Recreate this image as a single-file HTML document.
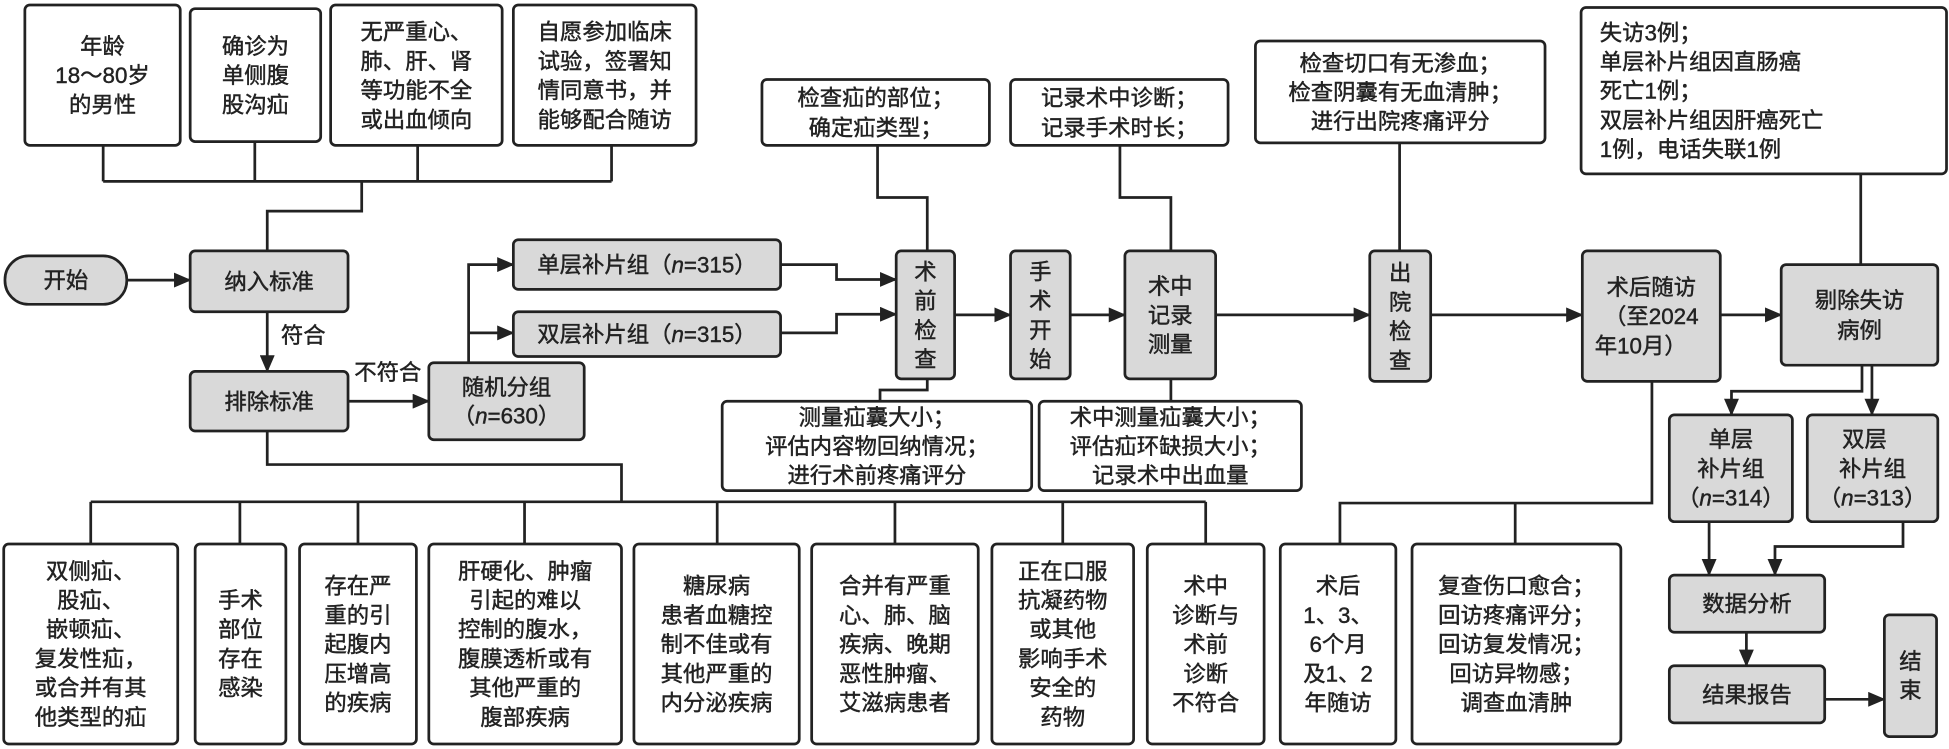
<!DOCTYPE html>
<html><head><meta charset="utf-8"><style>
html,body{margin:0;padding:0;background:#fff;}
svg{display:block}
text{font-family:"Liberation Sans","Noto Sans CJK SC",sans-serif;font-size:18px;fill:#222;stroke:#222;stroke-width:0.35;}
.b{fill:#fff;stroke:#222;stroke-width:2.2;}
.g{fill:#d9d9d9;stroke:#222;stroke-width:2.2;}
.l{fill:none;stroke:#222;stroke-width:2.2;}
</style></head><body>
<svg width="1949" height="749" viewBox="0 0 1568 603" preserveAspectRatio="none" xmlns="http://www.w3.org/2000/svg">
<defs><marker id="a" markerUnits="userSpaceOnUse" markerWidth="14" markerHeight="12" refX="13" refY="6" orient="auto"><path d="M0,0 L14,6 L0,12 z" fill="#222"/></marker></defs>

<!-- top criteria -->
<rect class="b" x="20" y="4" width="125" height="113" rx="4"/>
<text text-anchor="middle"><tspan x="82.5" y="43.5">年龄</tspan><tspan x="82.5" y="67">18～80岁</tspan><tspan x="82.5" y="90.5">的男性</tspan></text>
<rect class="b" x="153" y="7" width="105" height="107" rx="4"/>
<text text-anchor="middle"><tspan x="205.5" y="43.5">确诊为</tspan><tspan x="205.5" y="67">单侧腹</tspan><tspan x="205.5" y="90.5">股沟疝</tspan></text>
<rect class="b" x="266" y="4" width="138" height="113" rx="4"/>
<text text-anchor="middle"><tspan x="335" y="32">无严重心、</tspan><tspan x="335" y="55.5">肺、肝、肾</tspan><tspan x="335" y="79">等功能不全</tspan><tspan x="335" y="102.5">或出血倾向</tspan></text>
<rect class="b" x="413" y="4" width="147" height="113" rx="4"/>
<text text-anchor="middle"><tspan x="486.5" y="32">自愿参加临床</tspan><tspan x="486.5" y="55.5">试验，签署知</tspan><tspan x="486.5" y="79">情同意书，并</tspan><tspan x="486.5" y="102.5">能够配合随访</tspan></text>
<path class="l" d="M83,117 V146 M205,114 V146 M336,117 V146 M492,117 V146 M83,146 H492 M291,146 V170 H215 V202"/>

<!-- main left -->
<rect class="g" x="4" y="206" width="98" height="39" rx="19"/>
<text x="53" y="232" text-anchor="middle">开始</text>
<path class="l" d="M102,225.5 H153" marker-end="url(#a)"/>
<rect class="g" x="153" y="202" width="127" height="49" rx="4"/>
<text x="216.5" y="233" text-anchor="middle">纳入标准</text>
<path class="l" d="M215,251 V299" marker-end="url(#a)"/>
<text x="226" y="276">符合</text>
<rect class="g" x="153" y="299" width="127" height="48" rx="4"/>
<text x="216.5" y="329.5" text-anchor="middle">排除标准</text>
<text x="285" y="306">不符合</text>
<path class="l" d="M280,323 H345" marker-end="url(#a)"/>
<rect class="g" x="345" y="292" width="125" height="62" rx="4"/>
<text text-anchor="middle"><tspan x="407.5" y="318">随机分组</tspan><tspan x="407.5" y="341">（<tspan font-style="italic">n</tspan>=630）</tspan></text>
<path class="l" d="M377,292 V213 H413" marker-end="url(#a)"/>
<path class="l" d="M377,268 H413" marker-end="url(#a)"/>
<rect class="g" x="413" y="193" width="215" height="40" rx="4"/>
<text x="520.5" y="219.5" text-anchor="middle">单层补片组（<tspan font-style="italic">n</tspan>=315）</text>
<rect class="g" x="413" y="251" width="215" height="36" rx="4"/>
<text x="520.5" y="275.5" text-anchor="middle">双层补片组（<tspan font-style="italic">n</tspan>=315）</text>
<path class="l" d="M628,213 H673 V225 H721" marker-end="url(#a)"/>
<path class="l" d="M628,268 H673 V253 H721" marker-end="url(#a)"/>

<!-- middle flow -->
<rect class="b" x="613" y="64" width="183" height="53" rx="4"/>
<text text-anchor="middle"><tspan x="704.5" y="85">检查疝的部位；</tspan><tspan x="704.5" y="109">确定疝类型；</tspan></text>
<path class="l" d="M706,117 V159 H746 V202"/>
<rect class="b" x="813" y="64" width="175" height="53" rx="4"/>
<text text-anchor="middle"><tspan x="900.5" y="85">记录术中诊断；</tspan><tspan x="900.5" y="109">记录手术时长；</tspan></text>
<path class="l" d="M901,117 V159 H942 V202"/>

<rect class="g" x="721" y="202" width="47" height="103" rx="4"/>
<text text-anchor="middle"><tspan x="744.5" y="225">术</tspan><tspan x="744.5" y="248.5">前</tspan><tspan x="744.5" y="272">检</tspan><tspan x="744.5" y="295.5">查</tspan></text>
<path class="l" d="M768,253.5 H813" marker-end="url(#a)"/>
<rect class="g" x="813" y="202" width="48" height="103" rx="4"/>
<text text-anchor="middle"><tspan x="837" y="225">手</tspan><tspan x="837" y="248.5">术</tspan><tspan x="837" y="272">开</tspan><tspan x="837" y="295.5">始</tspan></text>
<path class="l" d="M861,253.5 H905" marker-end="url(#a)"/>
<rect class="g" x="905" y="202" width="73" height="103" rx="4"/>
<text text-anchor="middle"><tspan x="941.5" y="236.5">术中</tspan><tspan x="941.5" y="260">记录</tspan><tspan x="941.5" y="283.5">测量</tspan></text>
<path class="l" d="M978,253.5 H1102" marker-end="url(#a)"/>

<path class="l" d="M746,305 V314 H708 V323"/>
<rect class="b" x="581" y="323" width="249" height="72" rx="4"/>
<text text-anchor="middle"><tspan x="705.5" y="342">测量疝囊大小；</tspan><tspan x="705.5" y="365.5">评估内容物回纳情况；</tspan><tspan x="705.5" y="389">进行术前疼痛评分</tspan></text>
<path class="l" d="M942,305 V323"/>
<rect class="b" x="836" y="323" width="211" height="72" rx="4"/>
<text text-anchor="middle"><tspan x="941.5" y="342">术中测量疝囊大小；</tspan><tspan x="941.5" y="365.5">评估疝环缺损大小；</tspan><tspan x="941.5" y="389">记录术中出血量</tspan></text>

<!-- right -->
<rect class="b" x="1010" y="33" width="233" height="82" rx="4"/>
<text text-anchor="middle"><tspan x="1126.5" y="57">检查切口有无渗血；</tspan><tspan x="1126.5" y="80.5">检查阴囊有无血清肿；</tspan><tspan x="1126.5" y="104">进行出院疼痛评分</tspan></text>
<path class="l" d="M1126,115 V202"/>
<rect class="g" x="1102" y="202" width="49" height="105" rx="4"/>
<text text-anchor="middle"><tspan x="1126.5" y="226">出</tspan><tspan x="1126.5" y="249.5">院</tspan><tspan x="1126.5" y="273">检</tspan><tspan x="1126.5" y="296.5">查</tspan></text>
<path class="l" d="M1151,253.5 H1273" marker-end="url(#a)"/>
<rect class="g" x="1273" y="202" width="111" height="105" rx="4"/>
<text text-anchor="middle"><tspan x="1328.5" y="237.5">术后随访</tspan><tspan x="1328.5" y="261">（至2024</tspan><tspan x="1320" y="284.5">年10月）</tspan></text>
<path class="l" d="M1384,253.5 H1433" marker-end="url(#a)"/>

<rect class="b" x="1272" y="6" width="294" height="134" rx="4"/>
<text><tspan x="1287" y="32.5">失访3例；</tspan><tspan x="1287" y="56">单层补片组因直肠癌</tspan><tspan x="1287" y="79.5">死亡1例；</tspan><tspan x="1287" y="103">双层补片组因肝癌死亡</tspan><tspan x="1287" y="126.5">1例，电话失联1例</tspan></text>
<path class="l" d="M1497,140 V213"/>
<rect class="g" x="1433" y="213" width="126" height="81" rx="4"/>
<text text-anchor="middle"><tspan x="1496" y="248">剔除失访</tspan><tspan x="1496" y="272">病例</tspan></text>
<path class="l" d="M1498,294 V315 H1393 V334" marker-end="url(#a)"/>
<path class="l" d="M1506,294 V334" marker-end="url(#a)"/>
<rect class="g" x="1343" y="334" width="99" height="86" rx="4"/>
<text text-anchor="middle"><tspan x="1392.5" y="360">单层</tspan><tspan x="1392.5" y="383.5">补片组</tspan><tspan x="1392.5" y="407">（<tspan font-style="italic">n</tspan>=314）</tspan></text>
<rect class="g" x="1454" y="334" width="105" height="86" rx="4"/>
<text text-anchor="middle"><tspan x="1500" y="360">双层</tspan><tspan x="1506.5" y="383.5">补片组</tspan><tspan x="1506.5" y="407">（<tspan font-style="italic">n</tspan>=313）</tspan></text>
<path class="l" d="M1375,420 V463" marker-end="url(#a)"/>
<path class="l" d="M1531,420 V440 H1428 V463" marker-end="url(#a)"/>
<rect class="g" x="1343" y="463" width="125" height="46" rx="4"/>
<text x="1405.5" y="492.5" text-anchor="middle">数据分析</text>
<path class="l" d="M1405,509 V536" marker-end="url(#a)"/>
<rect class="g" x="1343" y="536" width="125" height="46" rx="4"/>
<text x="1405.5" y="565.5" text-anchor="middle">结果报告</text>
<path class="l" d="M1468,563 H1516" marker-end="url(#a)"/>
<rect class="g" x="1516" y="495" width="42" height="98" rx="4"/>
<text text-anchor="middle"><tspan x="1537" y="538.5">结</tspan><tspan x="1537" y="562">束</tspan></text>

<path class="l" d="M1329,307 V405 H1078 V438 M1219,405 V438"/>
<rect class="b" x="1030" y="438" width="93" height="161" rx="4"/>
<text text-anchor="middle"><tspan x="1076.5" y="478">术后</tspan><tspan x="1076.5" y="501.5">1、3、</tspan><tspan x="1076.5" y="525">6个月</tspan><tspan x="1076.5" y="548.5">及1、2</tspan><tspan x="1076.5" y="572">年随访</tspan></text>
<rect class="b" x="1136" y="438" width="168" height="161" rx="4"/>
<text text-anchor="middle"><tspan x="1220" y="478">复查伤口愈合；</tspan><tspan x="1220" y="501.5">回访疼痛评分；</tspan><tspan x="1220" y="525">回访复发情况；</tspan><tspan x="1220" y="548.5">回访异物感；</tspan><tspan x="1220" y="572">调查血清肿</tspan></text>

<!-- exclusion criteria -->
<path class="l" d="M215,347 V374 H500 V404 M73,404 H970 M73,404 V438 M193,404 V438 M288,404 V438 M422,404 V438 M577,404 V438 M720,404 V438 M855,404 V438 M970,404 V438"/>
<rect class="b" x="3" y="438" width="140" height="161" rx="4"/>
<text text-anchor="middle"><tspan x="73" y="466">双侧疝、</tspan><tspan x="73" y="489.5">股疝、</tspan><tspan x="73" y="513">嵌顿疝、</tspan><tspan x="73" y="536.5">复发性疝，</tspan><tspan x="73" y="560">或合并有其</tspan><tspan x="73" y="583.5">他类型的疝</tspan></text>
<rect class="b" x="157" y="438" width="73" height="161" rx="4"/>
<text text-anchor="middle"><tspan x="193.5" y="489.5">手术</tspan><tspan x="193.5" y="513">部位</tspan><tspan x="193.5" y="536.5">存在</tspan><tspan x="193.5" y="560">感染</tspan></text>
<rect class="b" x="241" y="438" width="94" height="161" rx="4"/>
<text text-anchor="middle"><tspan x="288" y="478">存在严</tspan><tspan x="288" y="501.5">重的引</tspan><tspan x="288" y="525">起腹内</tspan><tspan x="288" y="548.5">压增高</tspan><tspan x="288" y="572">的疾病</tspan></text>
<rect class="b" x="345" y="438" width="155" height="161" rx="4"/>
<text text-anchor="middle"><tspan x="422.5" y="466">肝硬化、肿瘤</tspan><tspan x="422.5" y="489.5">引起的难以</tspan><tspan x="422.5" y="513">控制的腹水，</tspan><tspan x="422.5" y="536.5">腹膜透析或有</tspan><tspan x="422.5" y="560">其他严重的</tspan><tspan x="422.5" y="583.5">腹部疾病</tspan></text>
<rect class="b" x="510" y="438" width="133" height="161" rx="4"/>
<text text-anchor="middle"><tspan x="576.5" y="478">糖尿病</tspan><tspan x="576.5" y="501.5">患者血糖控</tspan><tspan x="576.5" y="525">制不佳或有</tspan><tspan x="576.5" y="548.5">其他严重的</tspan><tspan x="576.5" y="572">内分泌疾病</tspan></text>
<rect class="b" x="653" y="438" width="134" height="161" rx="4"/>
<text text-anchor="middle"><tspan x="720" y="478">合并有严重</tspan><tspan x="720" y="501.5">心、肺、脑</tspan><tspan x="720" y="525">疾病、晚期</tspan><tspan x="720" y="548.5">恶性肿瘤、</tspan><tspan x="720" y="572">艾滋病患者</tspan></text>
<rect class="b" x="798" y="438" width="114" height="161" rx="4"/>
<text text-anchor="middle"><tspan x="855" y="466">正在口服</tspan><tspan x="855" y="489.5">抗凝药物</tspan><tspan x="855" y="513">或其他</tspan><tspan x="855" y="536.5">影响手术</tspan><tspan x="855" y="560">安全的</tspan><tspan x="855" y="583.5">药物</tspan></text>
<rect class="b" x="923" y="438" width="94" height="161" rx="4"/>
<text text-anchor="middle"><tspan x="970" y="478">术中</tspan><tspan x="970" y="501.5">诊断与</tspan><tspan x="970" y="525">术前</tspan><tspan x="970" y="548.5">诊断</tspan><tspan x="970" y="572">不符合</tspan></text>
</svg>
</body></html>
